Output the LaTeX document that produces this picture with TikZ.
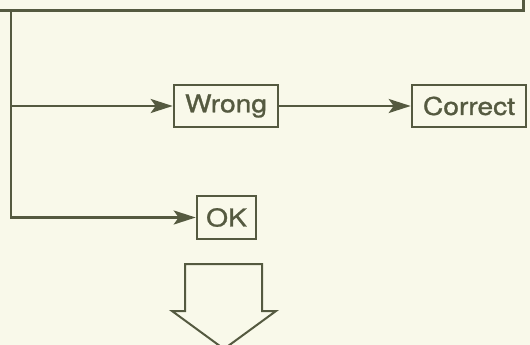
\documentclass[tikz,border=0pt]{standalone}
\usepackage{fontspec}
\setmainfont{TeX Gyre Heros}
\newfontfamily\boxfont{TeX Gyre Heros}[FakeBold=1.0]
\usepackage{graphicx}
\usetikzlibrary{arrows.meta}
\definecolor{ink}{HTML}{555A40}
\definecolor{paper}{HTML}{F9F9EA}
\newcommand{\wtext}[1]{\scalebox{1.15}[1]{#1}}

\begin{document}
\begin{tikzpicture}[x=1pt,y=-1pt,>={Stealth[length=22pt,width=14pt,inset=5pt]},
    wire/.style={draw=ink,line width=2.6pt},
    answer/.style={draw=ink,line width=2.6pt,inner sep=0pt,
      minimum height=42pt,font=\boxfont\fontsize{24.5}{24.5}\selectfont,text=ink}]
  % ---- page and clipping
  \fill[paper] (0,0) rectangle (530,345);
  \useasboundingbox (0,0) rectangle (530,345);
  \clip (0,0) rectangle (530,345);
  % ---- frame above (its text lies outside)
  \node[wire,minimum width=560pt,minimum height=60pt,
    anchor=south east] (frame) at (525,12) {};
  \coordinate (trunk) at (11,12);
  % ---- answer boxes
  \node[answer,minimum width=104pt] (wrong) at (226,106) {\wtext{Wrong}};
  \node[answer,minimum width=114pt] (correct) at (469,106) {\wtext{Correct}};
  \node[answer,minimum width=59pt,minimum height=43pt] (ok) at (226.5,217.5) {\wtext{OK}};
  % ---- connectors
  \draw[wire,->] (trunk) |- (ok.west);
  \draw[wire,->] (trunk |- wrong.west) -- (wrong.west);
  \draw[wire,->] (wrong.east) -- (correct.west);
  % ---- hollow arrow downwards
  \draw[wire,line width=2pt,line join=miter]
    (185,264) -- (262,264) -- (262,311) -- (276,311) -- (224,349)
    -- (172,311) -- (185,311) -- cycle;
\end{tikzpicture}
\end{document}
